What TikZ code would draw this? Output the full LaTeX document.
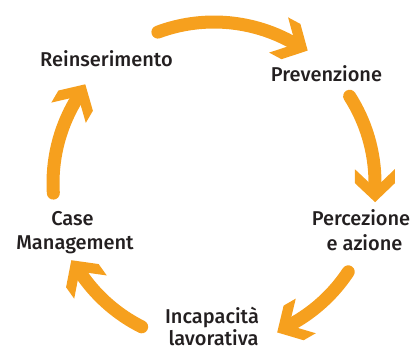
\documentclass[tikz,border=0pt]{standalone}
\usepackage{fontspec}
\setmainfont{Fira Sans}[UprightFont={* Medium}]
\definecolor{arrorange}{RGB}{246,160,30}
\definecolor{txt}{RGB}{35,31,32}
\begin{document}
\begin{tikzpicture}[x=1pt,y=1pt,
  lbl/.style={text=txt, font=\fontsize{20}{24}\selectfont, anchor=base, inner sep=0pt},
  shaft/.style={draw=arrorange, line width=13pt, line cap=round},
  chev/.pic={\fill[arrorange] (20,0) -- (1,20) -- (-13,20) -- (6,0) -- (-13,-20) -- (1,-20) -- cycle;}
]
\useasboundingbox (0,0) rectangle (412,351);
\coordinate (C) at (214,168);
\foreach \s/\e/\n in {110.4/61.8/1, 32.6/0.3/2, -33.5/-60/3, 243.3/215.5/4, 183.6/149.6/5}{
  \path (C) ++(\s:161) coordinate (s\n);
  \draw[shaft] (s\n) arc[start angle=\s, end angle=\e, radius=161] coordinate (e\n);
  \pic[rotate=\e-90] at (e\n) {chev};
}
\node[lbl] (rein) at (106.5,284.3) {Reinserimento};
\node[lbl] (prev) at (326.5,269.3) {Prevenzione};
\node[lbl] (perc1) at (361,126) {Percezione};
\node[lbl] (perc2) at (364.5,101) {e azione};
\node[lbl] (inc1) at (212,28) {Incapacità};
\node[lbl] (inc2) at (213.5,5.5) {lavorativa};
\node[lbl] (case1) at (72.5,126) {Case};
\node[lbl] (case2) at (75,101.7) {Management};
\end{tikzpicture}
\end{document}
